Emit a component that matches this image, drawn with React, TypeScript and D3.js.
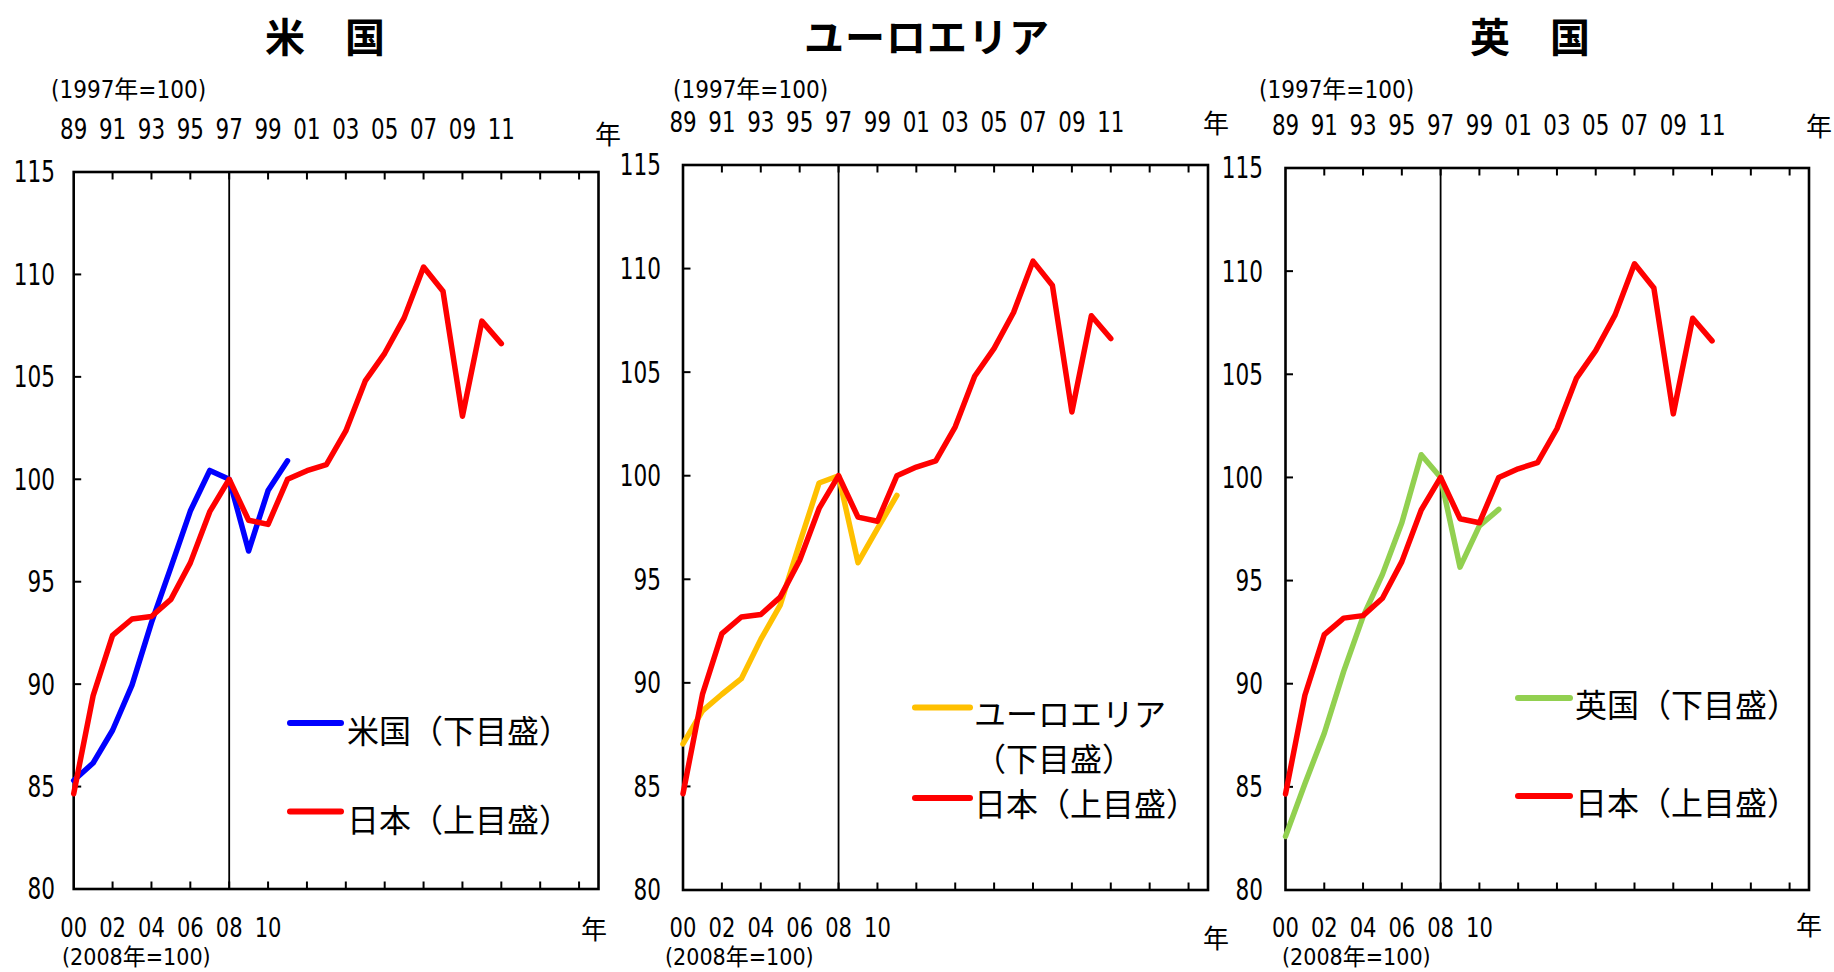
import React from "react";
import * as d3 from "d3";

// ---------- data ----------
const japanYears = [1989, 1990, 1991, 1992, 1993, 1994, 1995, 1996, 1997, 1998, 1999, 2000, 2001, 2002, 2003, 2004, 2005, 2006, 2007, 2008, 2009, 2010, 2011];
const japanValues = [84.65, 89.44, 92.38, 93.18, 93.3, 94.14, 95.92, 98.42, 100, 98.0, 97.8, 100, 100.42, 100.72, 102.36, 104.8, 106.15, 107.88, 110.36, 109.18, 103.08, 107.72, 106.62];

const foreignYears = [2000, 2001, 2002, 2003, 2004, 2005, 2006, 2007, 2008, 2009, 2010, 2011];
const usValues = [85.3, 86.15, 87.75, 89.95, 93.0, 95.7, 98.45, 100.43, 100, 96.5, 99.45, 100.9];
const euroValues = [87.05, 88.65, 89.45, 90.2, 92.1, 93.75, 96.75, 99.65, 100, 95.8, 97.45, 99.05];
const ukValues = [82.6, 85.15, 87.6, 90.6, 93.25, 95.3, 97.8, 101.1, 100, 95.65, 97.65, 98.45];

const topLabelYears = [1989, 1991, 1993, 1995, 1997, 1999, 2001, 2003, 2005, 2007, 2009, 2011];
const topLabels = ["89", "91", "93", "95", "97", "99", "01", "03", "05", "07", "09", "11"];
const bottomLabelYears = [2000, 2002, 2004, 2006, 2008, 2010];
const bottomLabels = ["00", "02", "04", "06", "08", "10"];
const tickYears = [1991, 1993, 1995, 1997, 1999, 2001, 2003, 2005, 2007, 2009, 2011, 2013, 2015];
const yTicks = [80, 85, 90, 95, 100, 105, 110, 115];

const topDomain = [1989, 2016];
const bottomDomain = [2000, 2027];
const yDomain = [80, 115];
const baseYear = 1997;

const titles = ["米　国", "ユーロエリア", "英　国"];
const foreignLegend = [["米国（下目盛）"], ["ユーロエリア", "（下目盛）"], ["英国（下目盛）"]];
const japanLegend = "日本（上目盛）";
const foreignColors = ["#0000FF", "#FFC000", "#92D050"];
const japanColor = "#FF0000";
const foreignSeries = [usValues, euroValues, ukValues];

const topNote = "(1997年=100)";
const bottomNote = "(2008年=100)";
const yearUnit = "年";

// ---------- layout ----------
const layouts = [
  { left: 73.7, right: 598.5, top: 172, bottom: 889, titleX: 325, noteTopX: 51, yrTopX: 608, yrTopY: 132, yrBotX: 594, yrBotY: 927, noteBotX: 62, yLabelX: 55,
    legLine: [290, 341], legTextX: 347, legRows: [{ line: 723, text: [729] }, { line: 811.5, text: [817.5] }] },
  { left: 683, right: 1208, top: 165, bottom: 890, titleX: 927, noteTopX: 673, yrTopX: 1216, yrTopY: 121, yrBotX: 1216, yrBotY: 936, noteBotX: 665, yLabelX: 661,
    legLine: [915, 970], legTextX: 974, legRows: [{ line: 707.5, text: [712, 757] }, { line: 798, text: [802] }] },
  { left: 1285.5, right: 1809, top: 168, bottom: 890, titleX: 1530, noteTopX: 1259, yrTopX: 1819, yrTopY: 124, yrBotX: 1809, yrBotY: 923, noteBotX: 1282, yLabelX: 1263,
    legLine: [1518, 1570], legTextX: 1575, legRows: [{ line: 698, text: [703] }, { line: 796, text: [801] }] },
];

const FONT_NUM = "'Liberation Sans Narrow','Arial Narrow','DejaVu Sans Condensed','Noto Sans CJK JP',sans-serif";
const FONT_JP = "'Noto Sans CJK JP','Noto Sans CJK SC',sans-serif";

function NumText({ x, y, anchor, size, sx, children }: { x: number; y: number; anchor: string; size: number; sx: number; children: any }) {
  return (
    <text transform={`translate(${x},${y}) scale(${sx},1)`} textAnchor={anchor} dominantBaseline="central" fontFamily={FONT_NUM} fontSize={size}>
      {children}
    </text>
  );
}

function Panel({ i }: { i: number }) {
  const L = layouts[i];
  const xTop = d3.scaleLinear().domain(topDomain).range([L.left, L.right]);
  const xBot = d3.scaleLinear().domain(bottomDomain).range([L.left, L.right]);
  const y = d3.scaleLinear().domain(yDomain).range([L.bottom, L.top]);

  const japanPts: [number, number][] = japanYears.map((yr, k) => [xTop(yr), y(japanValues[k])]);
  const foreignPts: [number, number][] = foreignYears.map((yr, k) => [xBot(yr), y(foreignSeries[i][k])]);
  const lineGen = d3.line<[number, number]>().x((d) => d[0]).y((d) => d[1]);

  const tickLen = 7.5;
  return (
    <g>
      {/* title */}
      <text x={L.titleX} y={35} textAnchor="middle" dominantBaseline="central" fontFamily={FONT_JP} fontWeight={700} fontSize={40} letterSpacing={i === 1 ? 1 : 0}>
        {titles[i]}
      </text>
      {/* top notes */}
      <text x={L.noteTopX} y={90} dominantBaseline="central" fontFamily={FONT_NUM} fontSize={24}>{topNote}</text>
      {topLabels.map((lab, k) => (
        <NumText key={"tl" + k} x={xTop(topLabelYears[k])} y={L.top - 43} anchor="middle" size={28} sx={0.85}>{lab}</NumText>
      ))}
      <text x={L.yrTopX} y={L.yrTopY} textAnchor="middle" dominantBaseline="central" fontFamily={FONT_JP} fontSize={26}>{yearUnit}</text>
      {/* bottom notes */}
      {bottomLabels.map((lab, k) => (
        <NumText key={"bl" + k} x={xBot(bottomLabelYears[k])} y={928} anchor="middle" size={26} sx={0.9}>{lab}</NumText>
      ))}
      <text x={L.noteBotX} y={957} dominantBaseline="central" fontFamily={FONT_NUM} fontSize={23}>{bottomNote}</text>
      <text x={L.yrBotX} y={L.yrBotY} textAnchor="middle" dominantBaseline="central" fontFamily={FONT_JP} fontSize={26}>{yearUnit}</text>
      {/* y labels */}
      {yTicks.map((v) => (
        <NumText key={"yl" + v} x={L.yLabelX} y={y(v)} anchor="end" size={30} sx={0.8}>{v}</NumText>
      ))}
      {/* ticks */}
      {yTicks.slice(1, -1).map((v) => (
        <line key={"yt" + v} x1={L.left} x2={L.left + tickLen} y1={y(v)} y2={y(v)} stroke="#000" strokeWidth={2} />
      ))}
      {tickYears.map((yr) => (
        <g key={"xt" + yr}>
          <line x1={xTop(yr)} x2={xTop(yr)} y1={L.top} y2={L.top + tickLen} stroke="#000" strokeWidth={2} />
          <line x1={xTop(yr)} x2={xTop(yr)} y1={L.bottom} y2={L.bottom - tickLen} stroke="#000" strokeWidth={2} />
        </g>
      ))}
      {/* base year vertical line */}
      <line x1={xTop(baseYear)} x2={xTop(baseYear)} y1={L.top} y2={L.bottom} stroke="#000" strokeWidth={1.8} />
      {/* frame */}
      <rect x={L.left} y={L.top} width={L.right - L.left} height={L.bottom - L.top} fill="none" stroke="#000" strokeWidth={2.6} />
      {/* series */}
      <path d={lineGen(foreignPts) || ""} fill="none" stroke={foreignColors[i]} strokeWidth={5.5} strokeLinecap="round" strokeLinejoin="round" />
      <path d={lineGen(japanPts) || ""} fill="none" stroke={japanColor} strokeWidth={5.5} strokeLinecap="round" strokeLinejoin="round" />
      {/* legend */}
      <line x1={L.legLine[0]} x2={L.legLine[1]} y1={L.legRows[0].line} y2={L.legRows[0].line} stroke={foreignColors[i]} strokeWidth={6} strokeLinecap="round" />
      {foreignLegend[i].map((t, k) => (
        <text key={"lg" + k} x={L.legTextX} y={L.legRows[0].text[k]} dominantBaseline="central" fontFamily={FONT_JP} fontSize={32}>{t}</text>
      ))}
      <line x1={L.legLine[0]} x2={L.legLine[1]} y1={L.legRows[1].line} y2={L.legRows[1].line} stroke={japanColor} strokeWidth={6} strokeLinecap="round" />
      <text x={L.legTextX} y={L.legRows[1].text[0]} dominantBaseline="central" fontFamily={FONT_JP} fontSize={32}>{japanLegend}</text>
    </g>
  );
}

export default function App() {
  return (
    <div style={{ position: "absolute", left: 0, top: 0 }}>
      <svg width={1834} height={972} style={{ display: "block", background: "#fff" }}>
        <rect x={0} y={0} width={1834} height={972} fill="#fff" />
        {[0, 1, 2].map((i) => (
          <Panel key={i} i={i} />
        ))}
      </svg>
    </div>
  );
}
